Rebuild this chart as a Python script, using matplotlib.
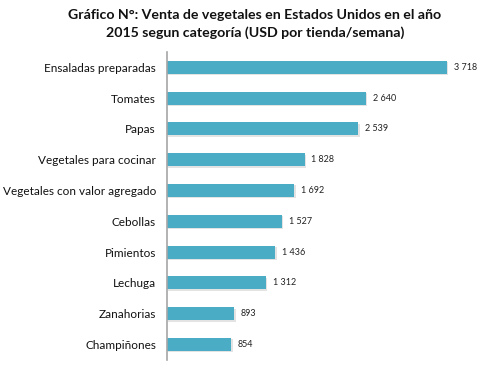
import matplotlib
matplotlib.use("Agg")
import matplotlib.pyplot as plt
import matplotlib.patheffects as pe

# datos del gráfico
categorias = ["Ensaladas preparadas", "Tomates", "Papas", "Vegetales para cocinar",
              "Vegetales con valor agregado", "Cebollas", "Pimientos", "Lechuga",
              "Zanahorias", "Champiñones"]
ventas = [3718, 2640, 2539, 1828, 1692, 1527, 1436, 1312, 893, 854]
etiquetas = ["3 718", "2 640", "2 539", "1 828", "1 692", "1 527", "1 436", "1 312", "893", "854"]

plt.rcParams['font.family'] = ['Lato', 'DejaVu Sans']

fig = plt.figure(figsize=(4.87, 3.68), dpi=100)
ax = fig.add_axes([0.343, 0.022, 0.643, 0.837])

pos = list(range(len(categorias)))
barras = ax.barh(pos, ventas, height=0.42, color="#4BACC6")
for b in barras:
    b.set_path_effects([pe.SimplePatchShadow(offset=(1.0, -1.0), shadow_rgbFace="#c8c8c8", alpha=0.5),
                        pe.Normal()])

for p, v, t in zip(pos, ventas, etiquetas):
    ax.text(v + 90, p, t, va="center", ha="left", fontsize=6.5, color="#222222")

ax.set_xlim(0, 4160)
ax.set_ylim(len(categorias) - 0.5, -0.5)
ax.set_yticks(pos)
ax.set_yticklabels(categorias, fontsize=8.5, color="#111111")
ax.tick_params(axis="y", length=0, pad=8)
ax.set_xticks([])
for s in ["top", "right", "bottom"]:
    ax.spines[s].set_visible(False)
ax.spines["left"].set_color("#a6a6a6")
ax.spines["left"].set_linewidth(1.2)

fig.text(0.523, 0.96, "Gráfico N°: Venta de vegetales en Estados Unidos en el año",
         ha="center", va="center", fontsize=10.2, fontweight="bold", color="#111111")
fig.text(0.523, 0.91, "2015 segun categoría (USD por tienda/semana)",
         ha="center", va="center", fontsize=10.2, fontweight="bold", color="#111111")

fig.savefig("out.png", dpi=100)
